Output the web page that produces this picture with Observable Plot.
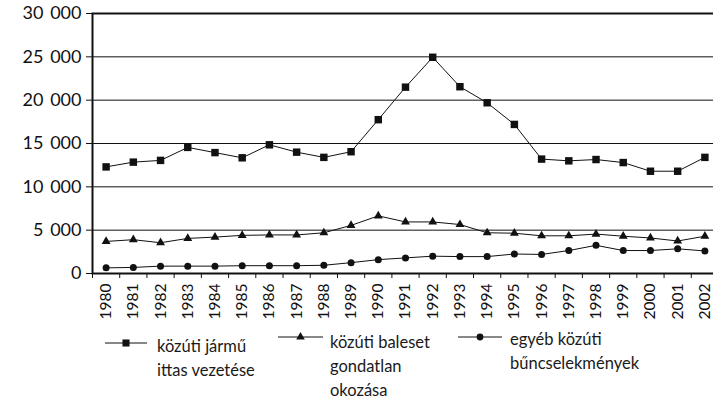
<!DOCTYPE html>
<html>
<head>
<meta charset="utf-8">
<script src="https://cdn.jsdelivr.net/npm/d3@7"></script>
<script src="https://cdn.jsdelivr.net/npm/@observablehq/plot@0.6"></script>
<style>
  html, body { margin: 0; padding: 0; background: #fff; }
  #wrap { position: relative; width: 713px; height: 403px; overflow: hidden; font-family: Lato, "Open Sans", sans-serif; color: #1a1a1a; }
  .leg { position: absolute; font-size: 16.5px; line-height: 24px; white-space: nowrap; }
  .sym { position: absolute; }
</style>
</head>
<body>
<div id="wrap"></div>
<script>
const years = d3.range(1980, 2003);
const seriesNames = ["közúti jármű ittas vezetése", "közúti baleset gondatlan okozása", "egyéb közúti bűncselekmények"];
const drunkDriving = [12300, 12850, 13050, 14550, 13950, 13350, 14850, 14000, 13400, 14050, 17750, 21500, 24950, 21550, 19700, 17200, 13200, 13000, 13150, 12800, 11800, 11800, 13400];
const negligentAccident = [3700, 3900, 3550, 4050, 4200, 4400, 4450, 4450, 4700, 5550, 6650, 5950, 5950, 5650, 4700, 4650, 4350, 4350, 4550, 4300, 4100, 3750, 4300];
const otherRoadCrimes = [650, 700, 850, 850, 850, 900, 900, 900, 950, 1250, 1600, 1800, 2000, 1950, 1950, 2250, 2200, 2650, 3250, 2650, 2650, 2850, 2600];
const yTicks = [0, 5000, 10000, 15000, 20000, 25000, 30000];
const legendLines = [["közúti jármű", "ittas vezetése"], ["közúti baleset", "gondatlan", "okozása"], ["egyéb közúti", "bűncselekmények"]];

const rows = years.map((year, i) => ({year, a: drunkDriving[i], b: negligentAccident[i], c: otherRoadCrimes[i]}));
const boundaries = [years[0] - 0.5, ...years.map(y => y + 0.5)];
const fmt = d => d3.format(",")(d).replace(/,/g, "\u2009 ");

const chart = Plot.plot({
  width: 713,
  height: 322,
  marginLeft: 92,
  marginRight: -5,
  marginTop: 13,
  marginBottom: 49,
  style: {fontFamily: "Lato, 'Open Sans', sans-serif", fontSize: "18px", color: "#111", background: "white", overflow: "visible"},
  x: {type: "linear", domain: [years[0] - 0.5, years[years.length - 1] + 0.5], ticks: boundaries, tickSize: 5, tickFormat: () => "", label: null},
  y: {domain: [0, 30000], ticks: yTicks, tickSize: 6, tickPadding: 5, tickFormat: fmt, label: null},
  marks: [
    Plot.ruleY(yTicks.filter(t => t > 0 && t < 30000), {stroke: "#111", strokeWidth: 1}),
    Plot.text(years, {x: d => d, y: yTicks[0], text: d => String(d), rotate: -90, textAnchor: "end", dy: 10, fontSize: 15.5, fill: "#111"}),
    Plot.frame({stroke: "#111", strokeWidth: 2}),
    Plot.line(rows, {x: "year", y: "a", stroke: "#111", strokeWidth: 1}),
    Plot.line(rows, {x: "year", y: "b", stroke: "#111", strokeWidth: 1}),
    Plot.line(rows, {x: "year", y: "c", stroke: "#111", strokeWidth: 1}),
    Plot.dot(rows, {x: "year", y: "a", symbol: "square", r: 4.2, fill: "#111", stroke: "none"}),
    Plot.dot(rows, {x: "year", y: "b", symbol: "triangle", r: 3.3, fill: "#111", stroke: "none"}),
    Plot.dot(rows, {x: "year", y: "c", symbol: "circle", r: 3.5, fill: "#111", stroke: "none"})
  ]
});

const wrap = document.getElementById("wrap");
chart.style.position = "absolute";
chart.style.left = "0px";
chart.style.top = "0px";
wrap.appendChild(chart);

// Legend (HTML below the chart)
const legendItems = [
  {symbol: "square", lineX: 105, lineW: 42, symY: 343, textX: 157, textTop: 334},
  {symbol: "triangle", lineX: 278, lineW: 45, symY: 337, textX: 330, textTop: 330},
  {symbol: "circle", lineX: 458, lineW: 44, symY: 337, textX: 510, textTop: 327}
];
legendItems.forEach((it, i) => {
  const svg = d3.create("svg").attr("class", "sym").attr("width", it.lineW).attr("height", 12)
    .style("left", it.lineX + "px").style("top", (it.symY - 6) + "px");
  svg.append("line").attr("x1", 0).attr("x2", it.lineW).attr("y1", 6).attr("y2", 6).attr("stroke", "#111").attr("stroke-width", 1);
  const sym = {square: d3.symbolSquare, triangle: d3.symbolTriangle, circle: d3.symbolCircle}[it.symbol];
  const size = {square: 50, triangle: 32, circle: 36}[it.symbol];
  svg.append("path").attr("d", d3.symbol(sym, size)()).attr("transform", `translate(${it.lineW / 2},6)`).attr("fill", "#111");
  wrap.appendChild(svg.node());
  const div = document.createElement("div");
  div.className = "leg";
  div.style.left = it.textX + "px";
  div.style.top = it.textTop + "px";
  div.innerHTML = legendLines[i].join("<br>");
  div.title = seriesNames[i];
  wrap.appendChild(div);
});
</script>
</body>
</html>
